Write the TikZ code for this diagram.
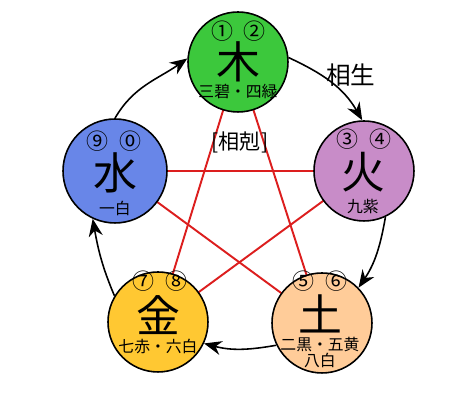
\documentclass[tikz,border=0pt]{standalone}
\usepackage{fontspec}
\newfontfamily\jp{Noto Sans CJK JP}
\usetikzlibrary{arrows.meta}

\definecolor{woodc}{RGB}{60,200,60}
\definecolor{firec}{RGB}{200,140,200}
\definecolor{waterc}{RGB}{104,134,232}
\definecolor{metalc}{RGB}{255,200,50}
\definecolor{earthc}{RGB}{255,204,153}
\definecolor{starred}{RGB}{220,30,30}

\begin{document}
\begin{tikzpicture}[
    x=0.02cm, y=0.02cm,
    elem/.style={circle, draw, line width=0.9pt, minimum size=2cm, inner sep=0pt},
    big/.style={font=\jp\fontsize{25pt}{25pt}\selectfont, inner sep=0pt},
    num/.style={font=\jp\fontsize{12.5pt}{12.5pt}\selectfont, inner sep=0pt},
    small/.style={font=\jp\fontsize{9pt}{9pt}\selectfont, inner sep=0pt},
    kok/.style={draw=starred, line width=1.1pt},
    sei/.style={-{Stealth[length=10pt, width=8pt]}, line width=0.9pt},
]
\useasboundingbox (0,0) rectangle (451,401);

% centres of the five elements
\coordinate (cwood) at (238,339);
\coordinate (cfire) at (364,230);
\coordinate (cearth) at (322,78);
\coordinate (cmetal) at (158,79);
\coordinate (cwater) at (115,230);

% [相剋] star, behind the circles
\draw[kok] (cwood) -- (cmetal);
\draw[kok] (cwood) -- (cearth);
\draw[kok] (cwater) -- (cfire);
\draw[kok] (cwater) -- (cearth);
\draw[kok] (cfire) -- (cmetal);

\node[elem, fill=woodc] (wood) at (cwood) {};
\node[elem, fill=firec] (fire) at (cfire) {};
\node[elem, fill=earthc] (earth) at (cearth) {};
\node[elem, fill=metalc] (metal) at (cmetal) {};
\node[elem, fill=waterc, minimum size=2.08cm] (water) at (cwater) {};

% wood
\node[num] (n1) at (222,370) {①};
\node[num] (n2) at (254,370) {②};
\node[big] (kwood) at (238,339) {木};
\node[small] (swood) at (238,309) {三碧・四緑};

% fire
\node[num] (n3) at (347,262) {③};
\node[num] (n4) at (380,262) {④};
\node[big] (kfire) at (363,229) {火};
\node[small] (sfire) at (363,194) {九紫};

% water
\node[num] (n9) at (97,260) {⑨};
\node[num] (n0) at (130,260) {⓪};
\node[big] (kwater) at (115,228) {水};
\node[small] (swater) at (115,193) {一白};

% metal
\node[num] (n7) at (143,120) {⑦};
\node[num] (n8) at (176,120) {⑧};
\node[big] (kmetal) at (158,86) {金};
\node[small] (smetal) at (158,54) {七赤・六白};

% earth
\node[num] (n5) at (303,120) {⑤};
\node[num] (n6) at (336,120) {⑥};
\node[big] (kearth) at (320,87) {土};
\node[small] (searth) at (320,56) {二黒・五黄};
\node[small] (searthb) at (320,41) {八白};

% [相生] cycle
\draw[sei] (wood.5) to[out=-25, in=120] (fire.92);
\draw[sei] (fire.295) to[out=-100, in=56] (earth.44);
\draw[sei] (earth.206) to[out=190, in=-15] (metal.335);
\draw[sei] (metal.149) to[out=113, in=-80] (water.245);
\draw[sei] (water.90) to[out=60, in=215] (wood.176);

\node[font=\jp\fontsize{14pt}{14pt}\selectfont, inner sep=0pt] (shou) at (351,326) {相生};
\node[font=\jp\fontsize{12pt}{12pt}\selectfont, inner sep=0pt] (koku) at (240,259) {[相剋]};
\end{tikzpicture}
\end{document}
